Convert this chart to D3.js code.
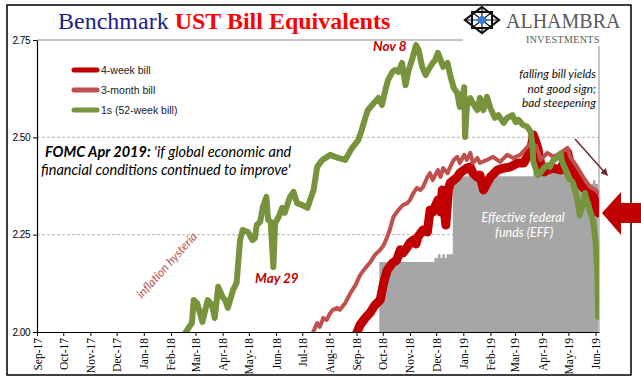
<!DOCTYPE html>
<html>
<head>
<meta charset="utf-8">
<script src="https://cdn.jsdelivr.net/npm/d3@7"></script>
<style>
  body { margin: 0; background: #fff; }
  svg { display: block; }
</style>
</head>
<body>
<svg id="chart" width="641" height="381"></svg>
<script>
// series (yield, %)
const bill4w = [
  ['2017-09-01', 0.95], ['2018-01-02', 1.28], ['2018-04-02', 1.63], ['2018-07-02', 1.85], ['2018-08-31', 1.99],
  ['2018-09-05', 2.018], ['2018-09-11', 2.036], ['2018-09-17', 2.051], ['2018-09-22', 2.069], ['2018-09-28', 2.082],
  ['2018-10-02', 2.126], ['2018-10-06', 2.159], ['2018-10-12', 2.177], ['2018-10-17', 2.185], ['2018-10-21', 2.211], ['2018-10-24', 2.203], ['2018-10-29', 2.218],
  ['2018-11-01', 2.229], ['2018-11-05', 2.236], ['2018-11-08', 2.226], ['2018-11-10', 2.244], ['2018-11-16', 2.262], ['2018-11-21', 2.257], ['2018-11-24', 2.313], ['2018-11-27', 2.308],
  ['2018-12-03', 2.339], ['2018-12-06', 2.308], ['2018-12-08', 2.365], ['2018-12-12', 2.275], ['2018-12-15', 2.365], ['2018-12-17', 2.383], ['2018-12-21', 2.39], ['2018-12-25', 2.398], ['2018-12-28', 2.408],
  ['2019-01-02', 2.416], ['2019-01-05', 2.421], ['2019-01-09', 2.424], ['2019-01-12', 2.408], ['2019-01-17', 2.398], ['2019-01-20', 2.403], ['2019-01-24', 2.365],
  ['2019-02-01', 2.398], ['2019-02-09', 2.416], ['2019-02-16', 2.421], ['2019-02-24', 2.424],
  ['2019-03-04', 2.434], ['2019-03-11', 2.434], ['2019-03-15', 2.45], ['2019-03-19', 2.468], ['2019-03-22', 2.506], ['2019-03-27', 2.473], ['2019-03-30', 2.437],
  ['2019-04-03', 2.411], ['2019-04-07', 2.416], ['2019-04-14', 2.421], ['2019-04-22', 2.416], ['2019-04-30', 2.462],
  ['2019-05-03', 2.434], ['2019-05-07', 2.416], ['2019-05-11', 2.396], ['2019-05-17', 2.372], ['2019-05-23', 2.365], ['2019-05-26', 2.347], ['2019-05-29', 2.357],
  ['2019-06-03', 2.313], ['2019-06-04', 2.306]
];

const bill3m = [
  ['2017-09-01', 1.04], ['2018-01-02', 1.42], ['2018-04-02', 1.73], ['2018-06-01', 1.93], ['2018-07-09', 1.98],
  ['2018-07-13', 1.997], ['2018-07-18', 2.023], ['2018-07-21', 2.013], ['2018-07-25', 2.036], ['2018-07-29', 2.031],
  ['2018-08-02', 2.049], ['2018-08-05', 2.057], ['2018-08-10', 2.062], ['2018-08-13', 2.057], ['2018-08-19', 2.074], ['2018-08-25', 2.10], ['2018-08-31', 2.121],
  ['2018-09-05', 2.146], ['2018-09-11', 2.164], ['2018-09-17', 2.18], ['2018-09-22', 2.198], ['2018-09-28', 2.211],
  ['2018-10-02', 2.223], ['2018-10-06', 2.244], ['2018-10-09', 2.262], ['2018-10-13', 2.295], ['2018-10-17', 2.308], ['2018-10-21', 2.319], ['2018-10-24', 2.326], ['2018-10-29', 2.331],
  ['2018-11-01', 2.339], ['2018-11-05', 2.357], ['2018-11-09', 2.37], ['2018-11-13', 2.365], ['2018-11-16', 2.372], ['2018-11-21', 2.398], ['2018-11-24', 2.408], ['2018-11-27', 2.39],
  ['2018-12-03', 2.416], ['2018-12-06', 2.398], ['2018-12-09', 2.421], ['2018-12-14', 2.408], ['2018-12-17', 2.424], ['2018-12-21', 2.442], ['2018-12-25', 2.45], ['2018-12-28', 2.434],
  ['2019-01-02', 2.455], ['2019-01-05', 2.442], ['2019-01-09', 2.46], ['2019-01-12', 2.434], ['2019-01-17', 2.447], ['2019-01-20', 2.434], ['2019-01-28', 2.442],
  ['2019-02-04', 2.45], ['2019-02-12', 2.437], ['2019-02-20', 2.455], ['2019-02-27', 2.447],
  ['2019-03-07', 2.455], ['2019-03-13', 2.47], ['2019-03-19', 2.485], ['2019-03-25', 2.478], ['2019-03-28', 2.462], ['2019-03-30', 2.442],
  ['2019-04-07', 2.46], ['2019-04-14', 2.45], ['2019-04-22', 2.46], ['2019-04-30', 2.473],
  ['2019-05-03', 2.45], ['2019-05-11', 2.424], ['2019-05-18', 2.398], ['2019-05-26', 2.372],
  ['2019-06-01', 2.365], ['2019-06-04', 2.357]
];

const bill52w = [
  ['2017-09-01', 1.27], ['2017-10-16', 1.40], ['2017-12-01', 1.62], ['2018-01-02', 1.78], ['2018-02-01', 1.90], ['2018-02-10', 1.96],
  ['2018-02-15', 1.99], ['2018-02-21', 2.01], ['2018-02-25', 2.023], ['2018-02-27', 2.082],
  ['2018-03-03', 2.074], ['2018-03-09', 2.026], ['2018-03-15', 2.082], ['2018-03-20', 2.069], ['2018-03-23', 2.036], ['2018-03-27', 2.116],
  ['2018-04-01', 2.09], ['2018-04-04', 2.082], ['2018-04-07', 2.062], ['2018-04-13', 2.108], ['2018-04-17', 2.126], ['2018-04-21', 2.236], ['2018-04-24', 2.262], ['2018-04-30', 2.257],
  ['2018-05-05', 2.236], ['2018-05-08', 2.241], ['2018-05-10', 2.275], ['2018-05-14', 2.283], ['2018-05-17', 2.321], ['2018-05-21', 2.347], ['2018-05-23', 2.288], ['2018-05-26', 2.283], ['2018-05-29', 2.167], ['2018-05-31', 2.28],
  ['2018-06-04', 2.295], ['2018-06-08', 2.319], ['2018-06-11', 2.306], ['2018-06-17', 2.347], ['2018-06-21', 2.36], ['2018-06-25', 2.331],
  ['2018-07-01', 2.326], ['2018-07-07', 2.319], ['2018-07-10', 2.339], ['2018-07-14', 2.365], ['2018-07-18', 2.424], ['2018-07-24', 2.442],
  ['2018-08-02', 2.455], ['2018-08-11', 2.447], ['2018-08-19', 2.442], ['2018-08-27', 2.473],
  ['2018-09-03', 2.493], ['2018-09-07', 2.519], ['2018-09-11', 2.55], ['2018-09-14', 2.57], ['2018-09-19', 2.583], ['2018-09-22', 2.591], ['2018-09-26', 2.601], ['2018-09-30', 2.583],
  ['2018-10-04', 2.622], ['2018-10-07', 2.647], ['2018-10-12', 2.668], ['2018-10-15', 2.673], ['2018-10-19', 2.668], ['2018-10-23', 2.691], ['2018-10-27', 2.634], ['2018-10-30', 2.668],
  ['2018-11-04', 2.704], ['2018-11-08', 2.737], ['2018-11-11', 2.724], ['2018-11-15', 2.681], ['2018-11-19', 2.66], ['2018-11-22', 2.673], ['2018-11-27', 2.691], ['2018-11-30', 2.699],
  ['2018-12-03', 2.717], ['2018-12-06', 2.699], ['2018-12-09', 2.681], ['2018-12-14', 2.691], ['2018-12-17', 2.66], ['2018-12-21', 2.627], ['2018-12-25', 2.614], ['2018-12-28', 2.578], ['2018-12-31', 2.604],
  ['2019-01-02', 2.629], ['2019-01-03', 2.501], ['2019-01-05', 2.578], ['2019-01-09', 2.601], ['2019-01-12', 2.588], ['2019-01-17', 2.57], ['2019-01-20', 2.601], ['2019-01-24', 2.57], ['2019-01-28', 2.604],
  ['2019-02-01', 2.575], ['2019-02-06', 2.55], ['2019-02-10', 2.557], ['2019-02-16', 2.537], ['2019-02-20', 2.55], ['2019-02-26', 2.557],
  ['2019-03-02', 2.539], ['2019-03-05', 2.545], ['2019-03-10', 2.532], ['2019-03-15', 2.527], ['2019-03-19', 2.514], ['2019-03-21', 2.48], ['2019-03-22', 2.437], ['2019-03-27', 2.403], ['2019-03-30', 2.408],
  ['2019-04-03', 2.421], ['2019-04-07', 2.429], ['2019-04-10', 2.424], ['2019-04-14', 2.442], ['2019-04-18', 2.447], ['2019-04-22', 2.458], ['2019-04-24', 2.437], ['2019-04-28', 2.416],
  ['2019-05-01', 2.396], ['2019-05-06', 2.385], ['2019-05-09', 2.36], ['2019-05-11', 2.344], ['2019-05-14', 2.30], ['2019-05-18', 2.331], ['2019-05-20', 2.357], ['2019-05-23', 2.331],
  ['2019-05-26', 2.308], ['2019-05-29', 2.288], ['2019-06-01', 2.236], ['2019-06-03', 2.159], ['2019-06-04', 2.039]
];

// effective fed funds, stepped
const effRate = [
  ['2018-09-01', 1.91], ['2018-09-27', 2.18], ['2018-11-29', 2.19], ['2018-12-03', 2.20], ['2018-12-06', 2.19], ['2018-12-08', 2.20],
  ['2018-12-11', 2.19], ['2018-12-13', 2.20], ['2018-12-20', 2.40], ['2019-03-22', 2.41], ['2019-04-15', 2.42], ['2019-05-02', 2.38],
  ['2019-05-29', 2.39], ['2019-06-01', 2.38], ['2019-06-04', 2.38]
];

const yTicks = [2.00, 2.25, 2.50, 2.75];
const gridTicks = [2.25, 2.50];
const legendLabels = ['4-week bill', '3-month bill', '1s (52-week bill)'];
const seriesColors = ['#c00000', '#c0504d', '#77933c'];
const seriesWidths = [9, 4, 6];

const parseDate = d3.timeParse('%Y-%m-%d');
const toPoints = arr => arr.map(d => ({date: parseDate(d[0]), value: d[1]}));

const plot = {left: 37, right: 599, top: 40, bottom: 332};

const x = d3.scaleTime()
  .domain([parseDate('2017-09-01'), parseDate('2019-06-05')])
  .range([plot.left, plot.right]);

const y = d3.scaleLinear()
  .domain([2.0, 2.75])
  .range([plot.bottom, plot.top]);

const svg = d3.select('#chart');
const sansFont = 'Liberation Sans, Arial, sans-serif';
const serifFont = 'Liberation Serif, Times New Roman, serif';
const noteFont = 'Lato, Open Sans, sans-serif';

svg.append('defs').append('clipPath')
  .attr('id', 'plot-clip')
  .append('rect')
  .attr('x', plot.left)
  .attr('y', plot.top - 10)
  .attr('width', plot.right - plot.left)
  .attr('height', plot.bottom - plot.top + 10);

// gridlines
svg.append('g')
  .selectAll('line')
  .data(gridTicks)
  .enter().append('line')
  .attr('x1', plot.left)
  .attr('x2', plot.right)
  .attr('y1', d => y(d))
  .attr('y2', d => y(d))
  .attr('stroke', '#b4b4b4')
  .attr('stroke-width', 1)
  .attr('stroke-dasharray', '3,2');

// plot frame top/right
svg.append('path')
  .attr('d', `M${plot.left},${y(2.75)}H${plot.right}V${plot.bottom}`)
  .attr('fill', 'none')
  .attr('stroke', '#8c8c8c')
  .attr('stroke-width', 1);

const chartG = svg.append('g').attr('clip-path', 'url(#plot-clip)');

// EFF area
chartG.append('path')
  .datum(toPoints(effRate))
  .attr('fill', '#a6a6a6')
  .attr('d', d3.area()
    .curve(d3.curveStepAfter)
    .x(d => x(d.date))
    .y0(y(2.0))
    .y1(d => y(d.value)));

const line = d3.line()
  .x(d => x(d.date))
  .y(d => y(d.value));

[bill4w, bill3m, bill52w].forEach((series, i) => {
  chartG.append('path')
    .datum(toPoints(series))
    .attr('fill', 'none')
    .attr('stroke', seriesColors[i])
    .attr('stroke-width', seriesWidths[i])
    .attr('stroke-linejoin', 'round')
    .attr('stroke-linecap', 'round')
    .attr('d', line);
});

// axes
const xAxis = d3.axisBottom(x)
  .ticks(d3.timeMonth.every(1))
  .tickFormat(d3.timeFormat('%b-%y'))
  .tickSize(4)
  .tickSizeOuter(0);

const xG = svg.append('g')
  .attr('transform', `translate(0,${plot.bottom})`)
  .call(xAxis);
xG.select('.domain').attr('stroke', '#000').attr('stroke-width', 1.2);
xG.selectAll('.tick line').attr('stroke', '#000');
xG.selectAll('.tick text')
  .attr('font-family', serifFont)
  .attr('font-size', 11.5)
  .attr('fill', '#000')
  .attr('text-anchor', 'end')
  .attr('transform', 'rotate(-90)')
  .attr('x', -6)
  .attr('y', 0)
  .attr('dy', '0.35em');

const yAxis = d3.axisLeft(y)
  .tickValues(yTicks)
  .tickFormat(d3.format('.2f'))
  .tickSize(4)
  .tickSizeOuter(0);

const yG = svg.append('g')
  .attr('transform', `translate(${plot.left},0)`)
  .call(yAxis);
yG.select('.domain').attr('stroke', '#000').attr('stroke-width', 1.2);
yG.selectAll('.tick line').attr('stroke', '#000');
yG.selectAll('.tick text')
  .attr('font-family', sansFont)
  .attr('font-size', 10)
  .attr('letter-spacing', -0.5)
  .attr('fill', '#000')
  .attr('x', -7);

// legend
const legend = svg.append('g').attr('transform', 'translate(74,70)');
legendLabels.forEach((label, i) => {
  const row = legend.append('g').attr('transform', `translate(0,${i * 20})`);
  row.append('line')
    .attr('x1', 0).attr('x2', 23)
    .attr('stroke', seriesColors[i])
    .attr('stroke-width', 5)
    .attr('stroke-linecap', 'round');
  row.append('text')
    .attr('x', 27)
    .attr('dy', '0.35em')
    .attr('font-family', sansFont)
    .attr('font-size', 10.5)
    .attr('fill', '#1a1a1a')
    .text(label);
});

// title
const title = svg.append('text')
  .attr('x', 58)
  .attr('y', 29)
  .attr('font-family', serifFont)
  .attr('font-size', 24);
title.append('tspan').attr('fill', '#1c1c8c').text('Benchmark ');
title.append('tspan').attr('fill', '#ff0000').attr('font-weight', 'bold').text('UST Bill Equivalents');

// annotations
svg.append('text')
  .attr('x', 373).attr('y', 51)
  .attr('font-family', noteFont).attr('font-size', 13.5)
  .attr('font-weight', 'bold').attr('font-style', 'italic')
  .attr('fill', '#c00000')
  .text('Nov 8');

svg.append('text')
  .attr('x', 255).attr('y', 283)
  .attr('font-family', noteFont).attr('font-size', 13.5)
  .attr('font-weight', 'bold').attr('font-style', 'italic')
  .attr('fill', '#c00000')
  .text('May 29');

svg.append('text')
  .attr('transform', 'translate(142,299) rotate(-48)')
  .attr('font-family', noteFont).attr('font-size', 12)
  .attr('font-style', 'italic')
  .attr('fill', '#c0504d')
  .text('inflation hysteria');

const fomc = svg.append('g')
  .attr('font-family', noteFont)
  .attr('font-size', 14.5)
  .attr('font-style', 'italic')
  .attr('fill', '#000');
const fomc1 = fomc.append('text').attr('x', 45).attr('y', 157);
fomc1.append('tspan').attr('font-weight', 'bold').text('FOMC Apr 2019:');
fomc1.append('tspan').text("  'if global economic and");
fomc.append('text').attr('x', 41).attr('y', 175)
  .text("financial conditions continued to improve'");

const effNote = svg.append('g')
  .attr('font-family', noteFont)
  .attr('font-size', 12.5)
  .attr('font-style', 'italic')
  .attr('fill', '#fff')
  .attr('text-anchor', 'middle');
effNote.append('text').attr('x', 523).attr('y', 222).text('Effective federal');
effNote.append('text').attr('x', 524).attr('y', 237).text('funds (EFF)');

const fallNote = svg.append('g')
  .attr('font-family', noteFont)
  .attr('font-size', 11.8)
  .attr('font-style', 'italic')
  .attr('fill', '#111')
  .attr('text-anchor', 'end');
['falling bill yields', 'not good sign;', 'bad steepening'].forEach((t, i) => {
  fallNote.append('text').attr('x', 596).attr('y', 78 + i * 14.5).text(t);
});

// small arrow
svg.select('defs').append('marker')
  .attr('id', 'arrow-head')
  .attr('viewBox', '0 0 10 10')
  .attr('refX', 8).attr('refY', 5)
  .attr('markerWidth', 5).attr('markerHeight', 5)
  .attr('orient', 'auto')
  .append('path')
  .attr('d', 'M0,0L10,5L0,10Z')
  .attr('fill', '#6b2b2b');

svg.append('line')
  .attr('x1', 575).attr('y1', 139)
  .attr('x2', 607).attr('y2', 175)
  .attr('stroke', '#6b2b2b')
  .attr('stroke-width', 1.5)
  .attr('marker-end', 'url(#arrow-head)');

// logo
svg.append('rect')
  .attr('x', 463).attr('y', 4)
  .attr('width', 168).attr('height', 42)
  .attr('fill', '#fff');

const logo = svg.append('g').attr('transform', 'translate(482,20)');
logo.append('path')
  .attr('d', 'M0,-13L17,0L0,13L-17,0Z')
  .attr('fill', '#fff').attr('stroke', '#111').attr('stroke-width', 2.2);
logo.append('path')
  .attr('d', 'M-10,-8H10V8H-10Z')
  .attr('fill', 'none').attr('stroke', '#111').attr('stroke-width', 2);
logo.append('path')
  .attr('d', 'M-10,-8L10,8M10,-8L-10,8M0,-13V13M-17,0H17')
  .attr('stroke', '#111').attr('stroke-width', 1.2);
logo.append('path')
  .attr('d', 'M0,-5L6,0L0,5L-6,0Z')
  .attr('fill', '#3b7dd0');

svg.append('text')
  .attr('x', 506).attr('y', 28)
  .attr('font-family', serifFont)
  .attr('font-size', 20)
  .attr('fill', '#595959')
  .text('ALHAMBRA');
svg.append('text')
  .attr('x', 526).attr('y', 43)
  .attr('font-family', serifFont)
  .attr('font-size', 10)
  .attr('letter-spacing', 0.4)
  .attr('fill', '#595959')
  .text('INVESTMENTS');

// outer border
svg.append('rect')
  .attr('x', 7).attr('y', 5)
  .attr('width', 624).attr('height', 370)
  .attr('fill', 'none')
  .attr('stroke', '#000')
  .attr('stroke-width', 1.5);

// big arrow on the right edge
svg.append('path')
  .attr('d', 'M602,213L621,192V203H641V223H621V235Z')
  .attr('fill', '#c00000');
</script>
</body>
</html>
